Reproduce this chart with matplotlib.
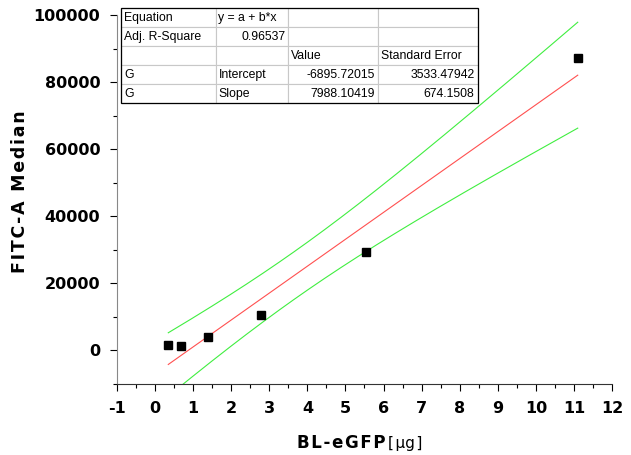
import numpy as np
import matplotlib.pyplot as plt

# data
dose = [0.347, 0.694, 1.39, 2.78, 5.55, 11.1]
fitc = [1600, 1200, 3900, 10500, 29300, 87100]

table_rows = [
    ['Equation', 'y = a + b*x', '', ''],
    ['Adj. R-Square', '0.96537', '', ''],
    ['', '', 'Value', 'Standard Error'],
    ['G', 'Intercept', '-6895.72015', '3533.47942'],
    ['G', 'Slope', '7988.10419', '674.1508'],
]
t_95 = 2.776  # t(0.975, n-2=4)

x = np.array(dose)
y = np.array(fitc)
n = len(x)
b, a = np.polyfit(x, y, 1)
resid = y - (a + b * x)
s = np.sqrt(np.sum(resid ** 2) / (n - 2))
sxx = np.sum((x - x.mean()) ** 2)
xf = np.linspace(x.min(), x.max(), 200)
yf = a + b * xf
half = t_95 * s * np.sqrt(1 / n + (xf - x.mean()) ** 2 / sxx)

plt.rcParams['font.family'] = ['DejaVu Sans']
plt.rcParams['axes.unicode_minus'] = False
fig = plt.figure(figsize=(6.31, 4.55), dpi=100)
ax = fig.add_axes([0.1854, 0.156, 0.7845, 0.811])

ax.plot(xf, yf, color='#ff5050', lw=0.8)
ax.plot(xf, yf + half, color='#40ee40', lw=0.8)
ax.plot(xf, yf - half, color='#40ee40', lw=0.8)
ax.plot(x, y, 's', color='black', ms=6, zorder=5)

ax.set_xlim(-1, 12)
ax.set_ylim(-10000, 100000)
ax.set_xticks(range(-1, 13))
ax.set_xticks(np.arange(-0.5, 12, 1), minor=True)
ax.set_yticks(range(0, 100001, 20000))
ax.set_yticks(range(-10000, 100001, 10000), minor=True)
ax.tick_params(which='major', direction='out', length=5, width=0.8, labelsize=11.5, pad=7)
ax.tick_params(which='minor', direction='out', length=3, width=0.8)
for lab in ax.get_xticklabels() + ax.get_yticklabels():
    lab.set_fontweight('bold')
ax.spines['top'].set_visible(False)
ax.spines['right'].set_visible(False)
ax.spines['left'].set_color('#888888')
ax.spines['bottom'].set_color('#333333')

ax.set_ylabel('\u200a'.join('FITC-A Median'), fontsize=12.5, fontweight='bold')
ax.yaxis.set_label_coords(-0.177, 0.52)
fig.text(0.541, 0.016, '\u200a'.join('BL-eGFP'), fontsize=12, fontweight='bold',
         ha='center', va='baseline')
fig.text(0.615, 0.016, '[\u200aμg\u200a]', fontsize=11, ha='left', va='baseline')

tbl = ax.table(cellText=table_rows, bbox=[0.008, 0.7615, 0.721, 0.2575],
               colWidths=[95, 72, 90, 100])
tbl.auto_set_font_size(False)
tbl.set_fontsize(8.8)
align = {(1, 1): 'right', (3, 2): 'right', (3, 3): 'right', (4, 2): 'right', (4, 3): 'right'}
for (r, c), cell in tbl.get_celld().items():
    cell.set_edgecolor('#c8c8c8')
    cell.set_linewidth(0.8)
    cell.set_facecolor('white')
    cell.PAD = 0.035
    cell._loc = align.get((r, c), 'left')
    cell.get_text().set_horizontalalignment(cell._loc)
    cell.get_text().set_fontfamily('Liberation Sans')
# outer border
ax.add_patch(plt.Rectangle((0.008, 0.7615), 0.721, 0.2575, transform=ax.transAxes,
                           fill=False, edgecolor='black', lw=0.9, zorder=10, clip_on=False))

fig.savefig('out.png', dpi=100)
